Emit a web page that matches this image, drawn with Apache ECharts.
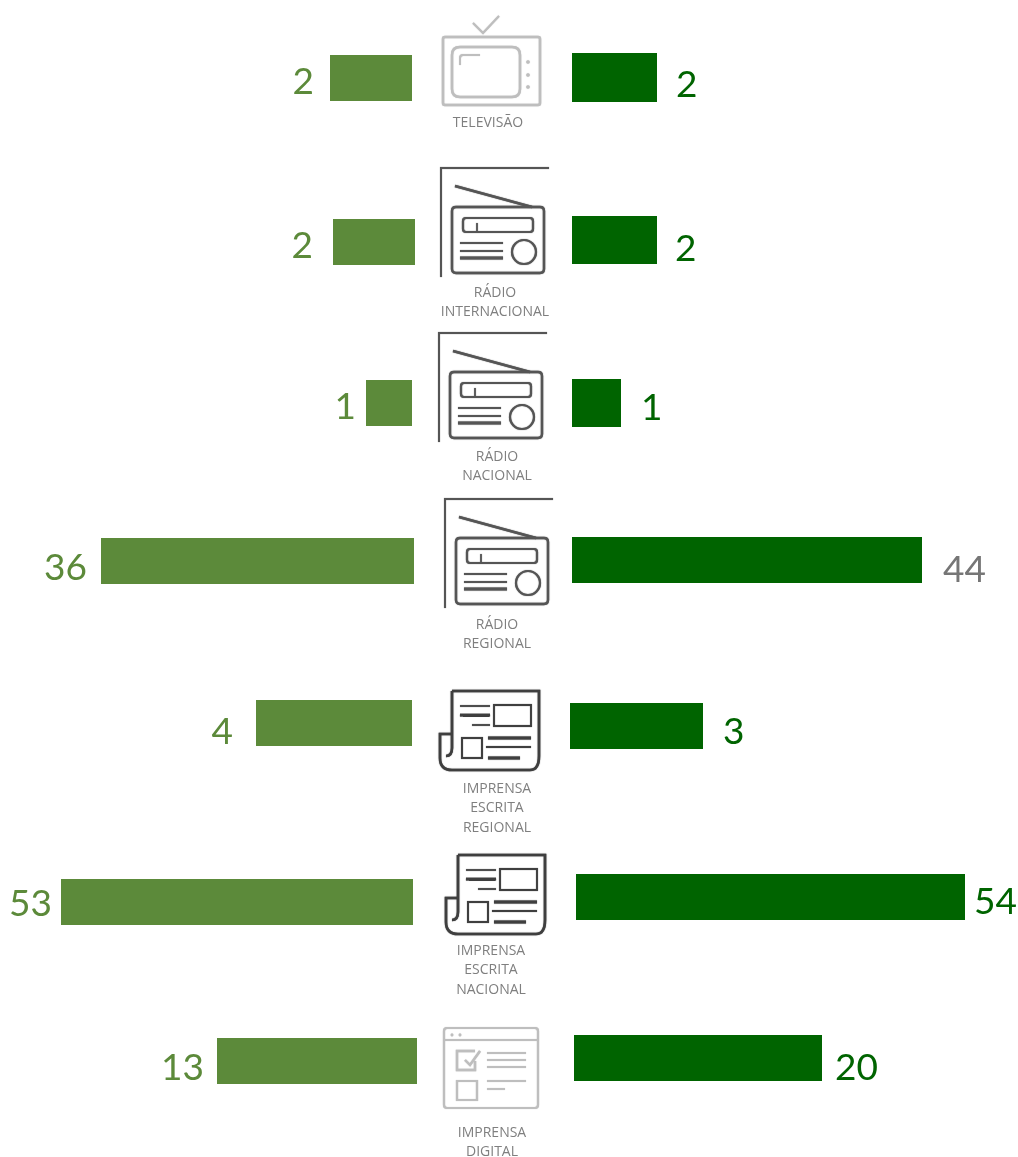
<!DOCTYPE html>
<html>
<head>
<meta charset="utf-8">
<style>html,body{margin:0;padding:0;background:#fff}#c{width:1018px;height:1157px}</style>
<script src="https://cdn.jsdelivr.net/npm/echarts@6/dist/echarts.min.js"></script>
</head>
<body>
<div id="c"></div>
<script>
// ---- data ----
const categories = ['TELEVISÃO', 'RÁDIO\nINTERNACIONAL', 'RÁDIO\nNACIONAL', 'RÁDIO\nREGIONAL',
  'IMPRENSA\nESCRITA\nREGIONAL', 'IMPRENSA\nESCRITA\nNACIONAL', 'IMPRENSA\nDIGITAL'];
const leftValues  = [2, 2, 1, 36, 4, 53, 13];
const rightValues = [2, 2, 1, 44, 3, 54, 20];
// drawn bar lengths as they appear in the picture (not proportional to the printed values)
const leftBarLengths  = [82, 82, 46, 313, 156, 352, 200];
const rightBarLengths = [85, 85, 49, 350, 133, 389, 248];

// ---- layout ----
const AXIS_SPAN = 400;
const GREEN_LIGHT = '#5C8A3A', GREEN_DARK = '#006400', GREY = '#767676', CAT_GREY = '#7F7F7F';
const leftBase  = [412, 415, 412, 414, 412, 413, 417];
const rightBase = [572, 572, 572, 572, 570, 576, 574];
const leftTop   = [55, 219, 380, 538, 700, 879, 1038];
const rightTop  = [53, 216, 379, 537, 703, 874, 1035];
const leftH     = [46, 46, 46, 46, 46, 46, 46];
const rightH    = [49, 48, 48, 46, 46, 46, 46];
const leftDist  = [16, 20, 10, 14, 23, 9, 13];
const rightDist = [19, 18, 20, 21, 20, 9, 13];
const leftLabelDy  = [4, 4, 4, 7, 9, 2, 7];
const rightLabelDy = [8, 9, 5, 10, 6, 5, 10];
const catX = [488, 495, 497, 497, 497, 491, 492];
const catY = [113, 283, 447, 615, 779, 941, 1123];
const FONT_VAL = 'Lato', FONT_CAT = '"Open Sans"';

const rr = (x, y, w, h, r) =>
  `M${x + r} ${y}H${x + w - r}Q${x + w} ${y} ${x + w} ${y + r}V${y + h - r}Q${x + w} ${y + h} ${x + w - r} ${y + h}` +
  `H${x + r}Q${x} ${y + h} ${x} ${y + h - r}V${y + r}Q${x} ${y} ${x + r} ${y}Z`;
const circ = (cx, cy, r) => `M${cx + r} ${cy}A${r} ${r} 0 1 1 ${cx - r} ${cy}A${r} ${r} 0 1 1 ${cx + r} ${cy}Z`;

// icons: [path, lineWidth]
const iconTv = [
  [rr(0, 21, 97, 68, 2), 2.5],
  [rr(9, 31, 68, 50, 8), 2.5],
  ['M17 49V42Q17 39 20 39H37', 2],
  [circ(85, 46, .8) + circ(85, 59, .8) + circ(85, 71, .8), 2],
  ['M30 7L40 17L56 0', 2]
];
const iconRadio = [
  ['M1 110V1H109', 2],
  ['M15 19L92 40', 2.6],
  [rr(12, 40, 92, 66, 4), 2.4],
  [rr(23, 51, 70, 14, 3), 2.2],
  ['M37 56V65', 1.6],
  ['M20 76H63M20 84H63', 1.8],
  ['M20 91H63', 3.2],
  [circ(84, 85, 12), 2.2]
];
const iconPaper = [
  ['M12 1H99V66Q99 80 90 80H12Q0 80 0 68V44H12', 2.6],
  ['M12 1V58Q12 66 6 66', 2.6],
  ['M20 16H50M32 35H50', 1.6],
  ['M20 25H50', 3],
  ['M54 15H91V36H54Z', 1.8],
  ['M22 48H42V68H22Z', 2],
  ['M48 48H91M48 68H80', 3],
  ['M46 57H91', 1.8]
];
const iconWeb = [
  [rr(0, 0, 94, 80, 3), 2.2],
  ['M0 12H94', 2],
  [circ(8, 7, .7) + circ(16, 7, .7), 1.4],
  ['M31 23H13V42H31V33', 2.4],
  ['M21 32L26 37L36 23', 2.4],
  ['M43 25H82M43 32H82M43 39H82', 1.8],
  ['M13 53H33V72H13Z', 2.2],
  ['M43 53H82', 1.8],
  ['M43 61H61', 1.8]
];
const iconPlacement = [
  [iconTv, 443, 16, '#BEBEBE'],
  [iconRadio, 440, 167, '#555555'],
  [iconRadio, 438, 332, '#555555'],
  [iconRadio, 444, 498, '#555555'],
  [iconPaper, 440, 690, '#3F3F3F'],
  [iconPaper, 446, 854, '#3F3F3F'],
  [iconWeb, 444, 1028, '#BEBEBE']
];

const grid = [], xAxis = [], yAxis = [], series = [];
function addBar(side, i, value, text, color, left, top, height, dist, dy) {
  const idx = grid.length;
  grid.push({ left: left, top: top, width: AXIS_SPAN, height: height });
  xAxis.push({ gridIndex: idx, type: 'value', min: 0, max: AXIS_SPAN, show: false, inverse: side === 'left' });
  yAxis.push({ gridIndex: idx, type: 'category', data: [categories[i]], show: false });
  series.push({
    type: 'bar', name: side, xAxisIndex: idx, yAxisIndex: idx, barWidth: '100%', silent: true,
    data: [value], itemStyle: { color: side === 'left' ? GREEN_LIGHT : GREEN_DARK },
    label: {
      show: true, position: side, distance: dist, offset: [0, dy],
      formatter: String(text), fontFamily: FONT_VAL, fontSize: 37, color: color
    }
  });
}
categories.forEach((c, i) => {
  addBar('left', i, leftBarLengths[i], leftValues[i], GREEN_LIGHT,
    leftBase[i] - AXIS_SPAN, leftTop[i], leftH[i], leftDist[i], leftLabelDy[i]);
  addBar('right', i, rightBarLengths[i], rightValues[i], rightValues[i] === 44 ? GREY : GREEN_DARK,
    rightBase[i], rightTop[i], rightH[i], rightDist[i], rightLabelDy[i]);
});

// the graphic component has no raw path element, so each icon stroke is registered as a shape
const shapeNames = new Map();
function shapeFor(d) {
  if (!shapeNames.has(d)) {
    const name = 'iconStroke' + shapeNames.size;
    echarts.graphic.registerShape(name, echarts.graphic.extendPath(d, {}));
    shapeNames.set(d, name);
  }
  return shapeNames.get(d);
}

const graphic = [];
iconPlacement.forEach(([icon, x, y, color]) => {
  graphic.push({
    type: 'group', x: x, y: y, silent: true,
    children: icon.map(([d, w]) => ({
      type: shapeFor(d),
      style: { fill: 'none', stroke: color, lineWidth: w, shadowBlur: 1, shadowColor: color }
    }))
  });
});
categories.forEach((c, i) => {
  graphic.push({
    type: 'text', x: catX[i], y: catY[i], silent: true,
    style: {
      text: c, fill: CAT_GREY, font: '14px ' + FONT_CAT, lineHeight: 19.5,
      textAlign: 'center', textVerticalAlign: 'top'
    }
  });
});

const chart = echarts.init(document.getElementById('c'), null, { renderer: 'canvas', width: 1018, height: 1157 });
chart.setOption({ animation: false, backgroundColor: '#fff', grid, xAxis, yAxis, series, graphic });
</script>
</body>
</html>
